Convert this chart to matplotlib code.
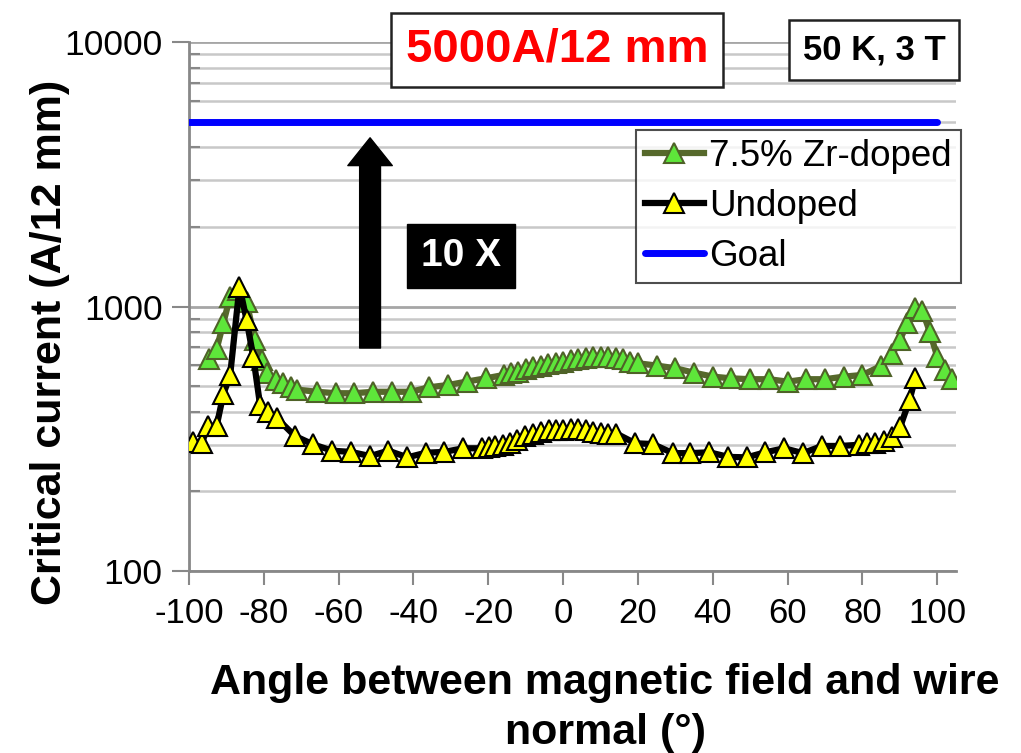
import matplotlib.pyplot as plt
import numpy as np
from matplotlib.patches import FancyArrowPatch, ArrowStyle

plt.rcParams['font.family'] = ['Liberation Sans', 'DejaVu Sans']

# 7.5% Zr-doped
zr_angle = [-94.6, -92.6, -90.8, -89.0, -87.0, -84.6, -82.4, -80.6, -79.1, -76.7,
            -74.8, -72.8, -71.0, -65.9, -60.7, -55.9, -50.7, -45.8, -40.7, -35.8,
            -30.7, -25.8, -20.7, -15.9, -14.0, -12.0, -10.0, -8.0, -6.0, -4.0,
            -2.0, 0.0, 2.0, 4.0, 6.0, 8.0, 10.0, 12.0, 14.0, 16.0,
            18.0, 20.0, 25.0, 30.0, 35.0, 40.0, 45.0, 50.0, 55.0, 60.0,
            65.0, 70.0, 75.0, 80.0, 85.0, 88.0, 90.0, 92.0, 94.0, 96.0,
            98.0, 100.0, 102.0, 104.0]
zr_ic = [631, 691, 868, 1090, 1150, 1040, 747, 628, 559, 527,
         513, 495, 485, 476, 470, 470, 476, 476, 476, 495,
         505, 520, 535, 551, 559, 567, 579, 589, 598, 606,
         612, 618, 628, 631, 637, 642, 645, 642, 637, 631,
         618, 610, 598, 584, 562, 543, 535, 531, 531, 520,
         531, 531, 543, 551, 596, 661, 747, 864, 985, 964,
         803, 646, 575, 531]

# undoped
un_angle = [-98.8, -96.6, -94.8, -92.6, -90.8, -89.0, -86.5, -84.6, -82.8, -81.0,
            -79.0, -76.5, -71.7, -66.8, -61.7, -56.7, -51.6, -46.7, -41.6, -36.7,
            -31.8, -26.7, -21.7, -19.9, -18.1, -16.1, -14.2, -12.2, -10.2, -8.0,
            -6.0, -3.9, -1.8, 0.1, 2.1, 4.1, 6.1, 8.1, 10.1, 12.0,
            14.2, 19.3, 24.0, 29.3, 34.0, 39.1, 44.2, 49.1, 54.0, 59.1,
            64.1, 69.2, 74.1, 79.0, 81.2, 83.4, 85.7, 87.9, 90.1, 92.6,
            94.1]
un_ic = [308, 305, 354, 354, 467, 550, 1188, 889, 643, 424,
         400, 378, 324, 301, 285, 282, 272, 285, 269, 280,
         282, 291, 291, 295, 297, 300, 304, 313, 324, 331,
         336, 341, 341, 341, 343, 343, 341, 336, 333, 330,
         331, 304, 302, 279, 279, 281, 270, 269, 281, 291,
         279, 297, 297, 300, 304, 306, 309, 322, 351, 443,
         535]

goal_angle = [-100, 100]
goal_ic = [5000, 5000]

xticks = list(range(-100, 101, 20))

fig = plt.figure(figsize=(10.21, 7.53), dpi=100)
ax = fig.add_axes([0.1851, 0.2417, 0.9363 - 0.1851, 0.9442 - 0.2417])

ax.set_yscale('log')
ax.set_ylim(100, 10000)
ax.set_xlim(-100, 105)

# gridlines
ax.grid(True, which='major', axis='y', color='#a6a6a6', lw=2.0, zorder=0)
ax.grid(True, which='minor', axis='y', color='#c8c8c8', lw=1.8, zorder=0)
ax.set_axisbelow(True)

ax.plot(goal_angle, goal_ic, color='#0000ff', lw=5, solid_capstyle='round',
        label='Goal', zorder=3)
ax.plot(zr_angle, zr_ic, color='#56692b', lw=4.5, marker='^', ms=14,
        mfc='#5ee63a', mec='#4f6228', mew=1.5, label='7.5% Zr-doped', zorder=4)
ax.plot(un_angle, un_ic, color='black', lw=4.5, marker='^', ms=14,
        mfc='#ffff00', mec='black', mew=1.5, label='Undoped', zorder=5)

# axes styling
for s in ['top', 'right']:
    ax.spines[s].set_visible(False)
ax.spines['left'].set_color('#888888')
ax.spines['bottom'].set_color('#888888')
ax.spines['left'].set_linewidth(2)
ax.spines['bottom'].set_linewidth(2)

ax.set_xticks(xticks)
ax.set_xticklabels([str(t) for t in xticks])
ax.set_yticks([100, 1000, 10000])
ax.set_yticklabels(['100', '1000', '10000'])
ax.tick_params(axis='x', which='both', direction='out', length=10, width=1.5,
               color='#888888', labelsize=25, pad=9)
ax.tick_params(axis='y', which='major', direction='out', length=12, width=1.5,
               color='#888888', labelsize=25.5, pad=7)
ax.tick_params(axis='y', which='minor', direction='in', length=8, width=1.5,
               color='#888888', labelleft=False)

fig.text(50 / 1021, 1 - 342 / 753, 'Critical current (A/12 mm)', rotation=90,
         fontsize=31, fontweight='bold', ha='center', va='center')
fig.text(605 / 1021, 1 - 683 / 753, 'Angle between magnetic field and wire',
         fontsize=31, fontweight='bold', ha='center', va='center')
fig.text(605 / 1021, 1 - 733 / 753, 'normal (°)',
         fontsize=31, fontweight='bold', ha='center', va='center')

# boxes at the top
fig.text(557 / 1021, 1 - 50 / 753, '5000A/12 mm', color='#ff0000', fontsize=34,
         fontweight='bold', ha='center', va='center',
         bbox=dict(boxstyle='square,pad=0.32', fc='white', ec='#222222', lw=1.8))
fig.text(874 / 1021, 1 - 50 / 753, '50 K, 3 T', color='black', fontsize=25,
         fontweight='bold', ha='center', va='center',
         bbox=dict(boxstyle='square,pad=0.4', fc='white', ec='#222222', lw=1.8))

# 10 X arrow
arrow = FancyArrowPatch((-51.6, 680), (-51.6, 4450),
                        arrowstyle=ArrowStyle.Simple(head_length=20, head_width=32,
                                                     tail_width=15),
                        mutation_scale=1, color='black', zorder=6)
ax.add_patch(arrow)
ax.text(-27.3, 1553, '10 X', color='white', fontsize=28, fontweight='bold',
        ha='center', va='center', zorder=7,
        bbox=dict(boxstyle='square,pad=0.35', fc='black', ec='black'))

handles, labels = ax.get_legend_handles_labels()
order = [1, 2, 0]
leg = ax.legend([handles[i] for i in order], [labels[i] for i in order],
                loc='upper right', bbox_to_anchor=(961 / 1021, 1 - 130 / 753),
                bbox_transform=fig.transFigure, fontsize=26.5, frameon=True,
                fancybox=False, edgecolor='#222222', handlelength=1.6,
                handletextpad=0.15, borderpad=0.25, labelspacing=0.4,
                borderaxespad=0)
leg.get_frame().set_linewidth(1.5)

fig.savefig('out.png', dpi=100)
